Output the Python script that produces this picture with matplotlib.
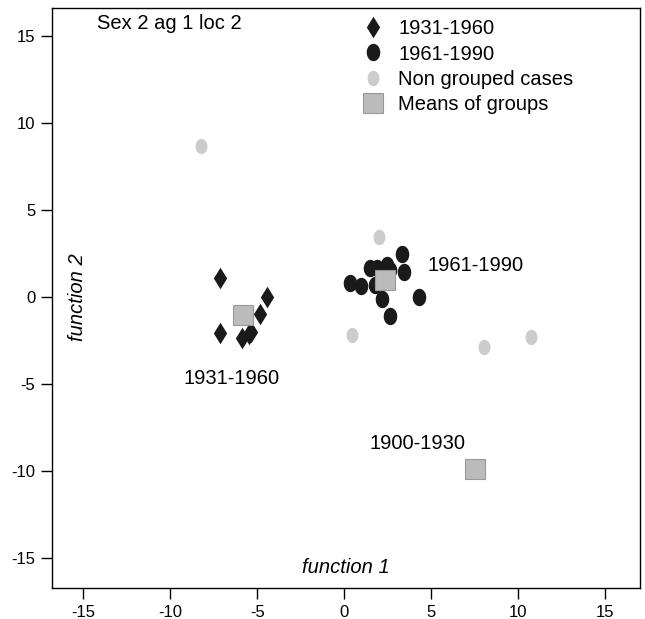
import matplotlib
matplotlib.use("Agg")
import matplotlib.pyplot as plt
import numpy as np
from matplotlib.path import Path

plt.rcParams['font.family'] = ['Liberation Sans', 'DejaVu Sans']
plt.rcParams['axes.unicode_minus'] = False

# data
g1931_x = [-7.13, -7.17, -4.44, -4.83, -5.88, -5.50, -5.34]
g1931_y = [1.11, -2.05, 0.02, -0.98, -2.32, -2.09, -1.99]
g1961_x = [3.31, 1.46, 2.45, 3.41, 0.34, 0.96, 1.78, 2.16, 4.31, 2.64, 1.88, 2.64]
g1961_y = [2.45, 1.70, 1.84, 1.46, 0.82, 0.63, 0.69, -0.08, -0.02, -1.07, 1.65, 1.55]
ng_x = [-8.22, 2.01, 0.46, 8.05, 10.75]
ng_y = [8.68, 3.45, -2.15, -2.87, -2.30]
mean_labels = ["1931-1960", "1961-1990", "1900-1930"]
mean_x = [-5.82, 2.36, 7.53]
mean_y = [-1.03, 0.98, -9.89]
ticks = [-15, -10, -5, 0, 5, 10, 15]

t = np.linspace(0, 2 * np.pi, 60)
ell = Path(np.column_stack([0.78 * np.cos(t), np.sin(t)]))
dia = Path([(0, 1), (0.62, 0), (0, -1), (-0.62, 0), (0, 1)],
           [Path.MOVETO, Path.LINETO, Path.LINETO, Path.LINETO, Path.CLOSEPOLY])

fig = plt.figure(figsize=(6.45, 6.19), dpi=100)
ax = fig.add_axes([52 / 645, 1 - 588 / 619, (640 - 52) / 645, (588 - 8) / 619])
ax.set_xlim(-16.8, 17.0)
ax.set_ylim(-16.7, 16.6)

dark = '#1a1a1a'
ax.plot(g1931_x, g1931_y, linestyle='none', marker=dia, markersize=15.5,
        color=dark, markeredgewidth=0, label='1931-1960', zorder=3)
ax.plot(g1961_x, g1961_y, linestyle='none', marker=ell, markersize=12.5,
        color=dark, markeredgewidth=0, label='1961-1990', zorder=3)
ax.plot(ng_x, ng_y, linestyle='none', marker=ell, markersize=11,
        color='#cccccc', markeredgewidth=0, label='Non grouped cases', zorder=3)
ax.plot(mean_x, mean_y, linestyle='none', marker='s', markersize=14,
        markerfacecolor='#bbbbbb', markeredgecolor='#999999', markeredgewidth=0.8,
        label='Means of groups', zorder=4)

fs = 14.5
ax.text(4.77, 1.84, mean_labels[1], fontsize=fs, ha='left', va='center')
ax.text(-6.49, -4.66, mean_labels[0], fontsize=fs, ha='center', va='center')
ax.text(4.2, -8.39, mean_labels[2], fontsize=fs, ha='center', va='center')

ax.text(-14.2, 15.7, "Sex 2 ag 1 loc 2", fontsize=fs, ha='left', va='center')
ax.text(0.1, -15.5, "function 1", fontsize=fs, style='italic', ha='center', va='center')
ax.text(-15.35, 0, "function 2", fontsize=fs, style='italic', ha='center', va='center',
        rotation=90)

leg = ax.legend(loc='upper left', bbox_to_anchor=((349 - 52) / 588, 1.0), frameon=False,
                fontsize=fs, handlelength=1.3, handletextpad=0.6, labelspacing=0.32,
                borderaxespad=0.15)

ax.set_xticks(ticks)
ax.set_yticks(ticks)
ax.tick_params(direction='out', length=8, width=1, labelsize=12, colors='black', pad=4)
for s in ax.spines.values():
    s.set_linewidth(1)

fig.savefig('out.png', dpi=100)
